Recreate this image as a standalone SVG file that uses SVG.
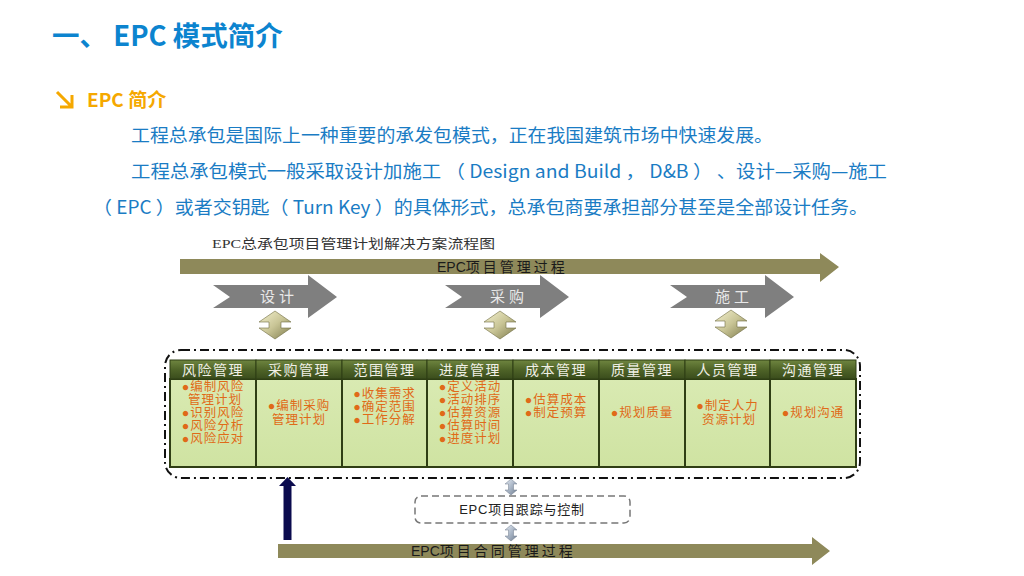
<svg xmlns="http://www.w3.org/2000/svg" width="1024" height="576" viewBox="0 0 1024 576">
<defs>
<linearGradient id="hdr" x1="0" y1="0" x2="0" y2="1">
<stop offset="0" stop-color="#6f8540"/>
<stop offset="0.5" stop-color="#4f6428"/>
<stop offset="1" stop-color="#3a4c1c"/>
</linearGradient>
<linearGradient id="bodyg" x1="0" y1="0" x2="0" y2="1">
<stop offset="0" stop-color="#d9eab2"/>
<stop offset="1" stop-color="#cfe3a2"/>
</linearGradient>
<linearGradient id="bev" x1="0" y1="0" x2="1" y2="1">
<stop offset="0" stop-color="#f4f1d0"/>
<stop offset="0.5" stop-color="#c9c596"/>
<stop offset="1" stop-color="#7d7a4c"/>
</linearGradient>
<linearGradient id="bevb" x1="0" y1="0" x2="1" y2="1">
<stop offset="0" stop-color="#e8eef6"/>
<stop offset="0.5" stop-color="#aab6c6"/>
<stop offset="1" stop-color="#6f7d90"/>
</linearGradient>
<polygon id="dbl" points="0,-14 16,-3 6,-3 6,3 16,3 0,14 -16,3 -6,3 -6,-3 -16,-3"/>
<polygon id="dbls" points="0,-8 6,-3 2.5,-3 2.5,3 6,3 0,8 -6,3 -2.5,3 -2.5,-3 -6,-3"/>
</defs>
<style>
.title{font-family:"Noto Sans CJK SC","Open Sans",sans-serif;font-weight:bold;font-size:27.5px;fill:#0c84cf}
.sub{font-family:"Noto Sans CJK SC","Open Sans",sans-serif;font-weight:bold;font-size:19px;fill:#f5a800}
.body{font-family:"Noto Sans CJK SC","Open Sans",sans-serif;font-size:18px;fill:#1a7cc4}
.cap{font-family:"Liberation Serif","Noto Sans CJK SC",serif;font-size:13px;fill:#333}
.band{font-family:"Liberation Sans","Noto Sans CJK SC",sans-serif;font-size:14px;fill:#1a1a1a}
.sp{letter-spacing:3px}
.chev{font-family:"Liberation Serif","Noto Sans CJK SC",serif;font-size:15px;fill:#e8e8e8;letter-spacing:4px}
.hd{font-family:"Liberation Serif","Noto Sans CJK SC",serif;font-size:14px;fill:#f0f0e6;letter-spacing:1.5px;text-anchor:middle}
.it{font-family:"Liberation Serif","Noto Sans CJK SC",serif;font-size:12.5px;fill:#e06a18;letter-spacing:1px;text-anchor:middle}
.trk{font-family:"Liberation Sans","Noto Sans CJK SC",sans-serif;font-size:13px;fill:#222;text-anchor:middle;letter-spacing:0.8px}
.col{fill:url(#bodyg);stroke:#2f3e14;stroke-width:2}
.colh{fill:url(#hdr);stroke:#2f3e14;stroke-width:1}
.olive{fill:#8e895a}
.gray{fill:#7f7f7f}
</style>

<g id="heading">
<text class="title" x="52" y="46">一、 EPC 模式简介</text>
<path d="M57,92 L72,107 M72,95 L72,107 L60,107" fill="none" stroke="#f5a800" stroke-width="3"/>
<text class="sub" x="87" y="107">EPC 简介</text>
<text class="body" x="131" y="142" textLength="642" lengthAdjust="spacingAndGlyphs">工程总承包是国际上一种重要的承发包模式，正在我国建筑市场中快速发展。</text>
<text class="body" x="131" y="178" textLength="756" lengthAdjust="spacingAndGlyphs">工程总承包模式一般采取设计加施工 （ Design and Build ， D&amp;B ） 、设计—采购—施工</text>
<text class="body" x="93" y="214" textLength="775" lengthAdjust="spacingAndGlyphs">（ EPC ）或者交钥匙（ Turn Key ）的具体形式，总承包商要承担部分甚至是全部设计任务。</text>
</g>

<g id="caption"><text class="cap" x="212" y="248" textLength="283" lengthAdjust="spacingAndGlyphs">EPC总承包项目管理计划解决方案流程图</text></g>

<g id="epc-mgmt">
<polygon class="olive" points="180,259 820,259 820,253 839,267 820,282 820,274 180,274"/>
<text class="band" x="437" y="272">EPC<tspan class="sp">项目管理过程</tspan></text>
</g>

<g id="phase-design">
<polygon class="gray" points="213,285 308,285 308,275 337,297 308,318 308,308 213,308 230,297"/>
<text class="chev" x="260" y="302">设计</text>
</g>
<g id="phase-procure">
<polygon class="gray" points="445,285 540,285 540,275 569,297 540,318 540,308 445,308 462,297"/>
<text class="chev" x="490" y="302">采购</text>
</g>
<g id="phase-build">
<polygon class="gray" points="670,285 765,285 765,275 794,297 765,318 765,308 670,308 687,297"/>
<text class="chev" x="715" y="302">施工</text>
</g>

<g id="connectors">
<use href="#dbl" x="275" y="325" fill="url(#bev)" stroke="#6f6c40" stroke-width="0.6"/>
<use href="#dbl" x="500" y="325" fill="url(#bev)" stroke="#6f6c40" stroke-width="0.6"/>
<use href="#dbl" x="731" y="324" fill="url(#bev)" stroke="#6f6c40" stroke-width="0.6"/>
<use href="#dbls" x="511" y="487" fill="url(#bevb)" stroke="#707c8c" stroke-width="0.5"/>
<use href="#dbls" x="511" y="533" fill="url(#bevb)" stroke="#707c8c" stroke-width="0.5"/>
<path d="M287.5,540 L287.5,484" stroke="#0b0b4e" stroke-width="8"/>
<polygon points="287.5,477 296,486 279,486" fill="#0b0b4e"/>
</g>

<g id="plan-frame">
<rect x="165" y="350" width="695" height="128" rx="16" ry="16" fill="none" stroke="#111" stroke-width="2" stroke-dasharray="9 4 2 4"/>
</g>

<g id="col-risk">
<rect class="col" x="170" y="379" width="86" height="88"/>
<rect class="colh" x="170" y="360" width="86" height="19"/>
<text class="hd" x="213" y="375">风险管理</text>
<text class="it" x="213" y="391">●编制风险</text>
<text class="it" x="215" y="404">管理计划</text>
<text class="it" x="213" y="417">●识别风险</text>
<text class="it" x="213" y="430">●风险分析</text>
<text class="it" x="213" y="443">●风险应对</text>
</g>
<g id="col-procure">
<rect class="col" x="256" y="379" width="86" height="88"/>
<rect class="colh" x="256" y="360" width="86" height="19"/>
<text class="hd" x="299" y="375">采购管理</text>
<text class="it" x="299" y="410">●编制采购</text>
<text class="it" x="299" y="424">管理计划</text>
</g>
<g id="col-scope">
<rect class="col" x="342" y="379" width="85" height="88"/>
<rect class="colh" x="342" y="360" width="85" height="19"/>
<text class="hd" x="384.5" y="375">范围管理</text>
<text class="it" x="384.5" y="398">●收集需求</text>
<text class="it" x="384.5" y="411">●确定范围</text>
<text class="it" x="384.5" y="424">●工作分解</text>
</g>
<g id="col-schedule">
<rect class="col" x="427" y="379" width="86" height="88"/>
<rect class="colh" x="427" y="360" width="86" height="19"/>
<text class="hd" x="470" y="375">进度管理</text>
<text class="it" x="470" y="391">●定义活动</text>
<text class="it" x="470" y="404">●活动排序</text>
<text class="it" x="470" y="417">●估算资源</text>
<text class="it" x="470" y="430">●估算时间</text>
<text class="it" x="470" y="443">●进度计划</text>
</g>
<g id="col-cost">
<rect class="col" x="513" y="379" width="86" height="88"/>
<rect class="colh" x="513" y="360" width="86" height="19"/>
<text class="hd" x="556" y="375">成本管理</text>
<text class="it" x="556" y="404">●估算成本</text>
<text class="it" x="556" y="417">●制定预算</text>
</g>
<g id="col-quality">
<rect class="col" x="599" y="379" width="86" height="88"/>
<rect class="colh" x="599" y="360" width="86" height="19"/>
<text class="hd" x="642" y="375">质量管理</text>
<text class="it" x="642" y="417">●规划质量</text>
</g>
<g id="col-hr">
<rect class="col" x="685" y="379" width="85" height="88"/>
<rect class="colh" x="685" y="360" width="85" height="19"/>
<text class="hd" x="727.5" y="375">人员管理</text>
<text class="it" x="727.5" y="410">●制定人力</text>
<text class="it" x="729" y="424">资源计划</text>
</g>
<g id="col-comm">
<rect class="col" x="770" y="379" width="86" height="88"/>
<rect class="colh" x="770" y="360" width="86" height="19"/>
<text class="hd" x="813" y="375">沟通管理</text>
<text class="it" x="813" y="417">●规划沟通</text>
</g>

<g id="tracking">
<rect x="415" y="496" width="215" height="27" rx="6" ry="6" fill="#fff" stroke="#777" stroke-width="1.5" stroke-dasharray="7 4"/>
<text class="trk" x="522" y="514">EPC项目跟踪与控制</text>
</g>

<g id="contract">
<polygon class="olive" points="278,544 812,544 812,537 830,551 812,565 812,558 278,558"/>
<text class="band" x="411" y="556">EPC<tspan class="sp">项目合同管理过程</tspan></text>
</g>
</svg>
